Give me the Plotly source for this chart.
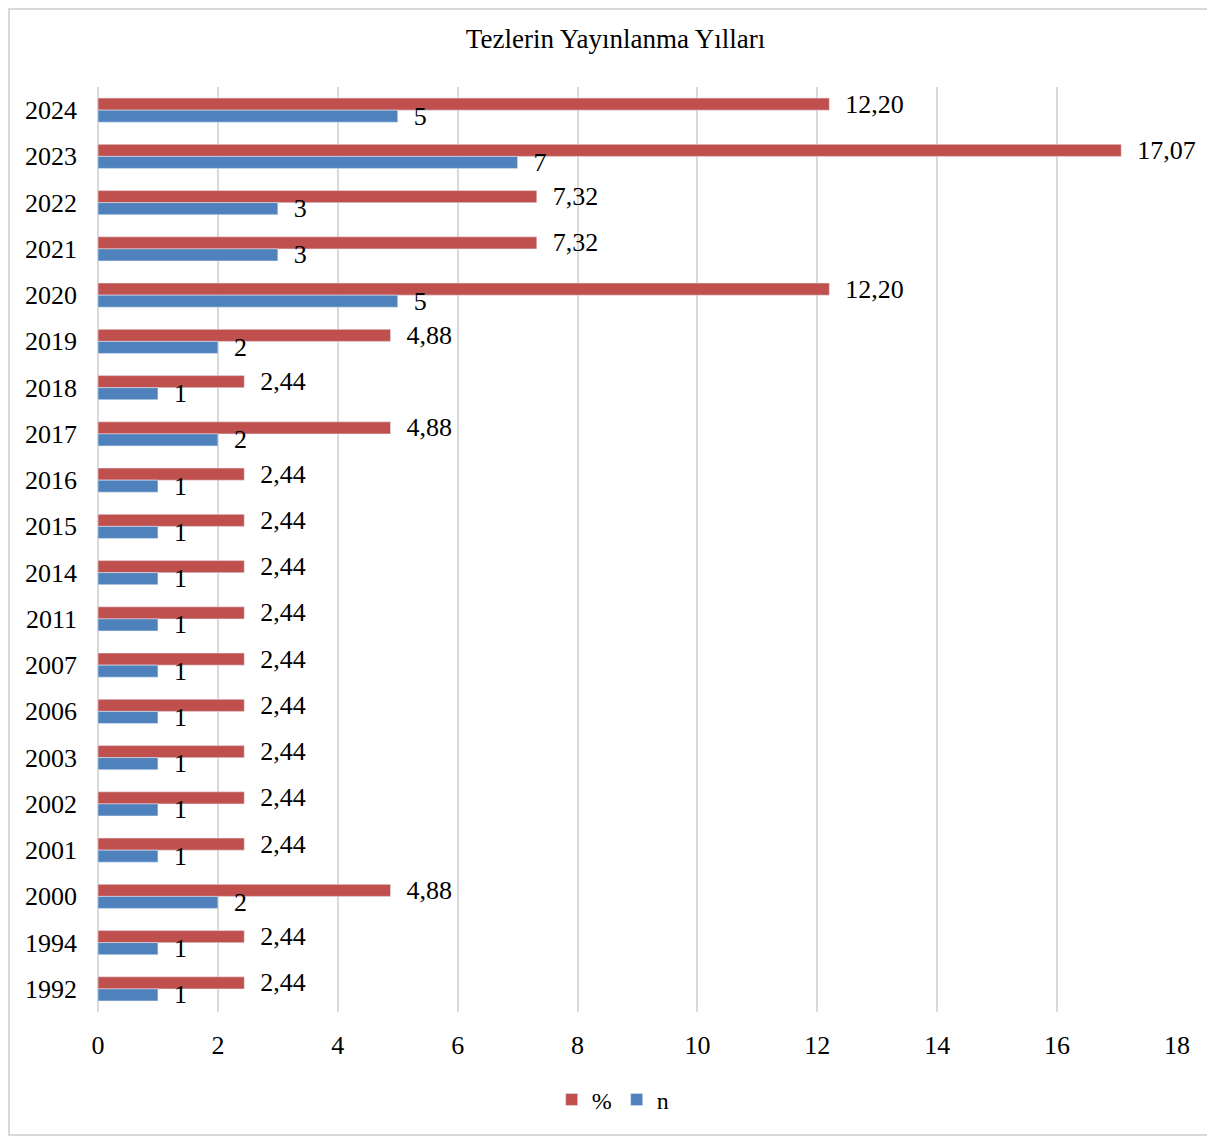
import plotly.graph_objects as go

years = ["1992", "1994", "2000", "2001", "2002", "2003", "2006", "2007", "2011",
         "2014", "2015", "2016", "2017", "2018", "2019", "2020", "2021", "2022",
         "2023", "2024"]
n_vals = [1, 1, 2, 1, 1, 1, 1, 1, 1, 1, 1, 1, 2, 1, 2, 5, 3, 3, 7, 5]
pct_vals = [2.44, 2.44, 4.88, 2.44, 2.44, 2.44, 2.44, 2.44, 2.44, 2.44, 2.44,
            2.44, 4.88, 2.44, 4.88, 12.20, 7.32, 7.32, 17.07, 12.20]
x_ticks = [0, 2, 4, 6, 8, 10, 12, 14, 16, 18]

font = "Liberation Serif, Times New Roman, serif"
pad = "\u00a0\u00a0"

fig = go.Figure()
# % bars sit just above the category centre, n bars just below; n drawn last so its labels stay on top
fig.add_trace(go.Bar(
    y=years, x=pct_vals, orientation="h", name="%",
    marker=dict(color="#C0504D"), width=0.26, offset=0,
    text=[pad + f"{v:.2f}".replace(".", ",") for v in pct_vals], textposition="outside",
    textfont=dict(family=font, size=26, color="black"),
    constraintext="none", cliponaxis=False,
))
fig.add_trace(go.Bar(
    y=years, x=n_vals, orientation="h", name="n",
    marker=dict(color="#4F81BD"), width=0.26, offset=-0.26,
    text=[pad + str(v) for v in n_vals], textposition="outside",
    textfont=dict(family=font, size=26, color="black"),
    constraintext="none", cliponaxis=False,
))

fig.update_layout(
    width=1215, height=1137,
    margin=dict(l=90, r=46, t=79, b=133),
    paper_bgcolor="white", plot_bgcolor="white",
    font=dict(family=font, size=26, color="black"),
    title=dict(text="Tezlerin Yayınlanma Yılları", x=0.5, xanchor="center",
               y=1 - 31 / 1137, yanchor="middle",
               font=dict(family=font, size=27, color="black")),
    barmode="overlay",
    showlegend=True,
    legend=dict(orientation="h", x=0.477, xanchor="center", y=-0.095, yanchor="middle",
                font=dict(family=font, size=24, color="black"),
                itemwidth=30),
    xaxis=dict(range=[0, 18], tickvals=x_ticks, showgrid=True, gridcolor="#d9d9d9",
               gridwidth=2, zeroline=True, zerolinecolor="#d9d9d9", zerolinewidth=2,
               showline=False, ticks="", ticklabelstandoff=15,
               tickfont=dict(family=font, size=26)),
    yaxis=dict(type="category", categoryorder="array", categoryarray=years,
               showgrid=False, showline=False, ticks="", ticklabelstandoff=20,
               tickfont=dict(family=font, size=26)),
    shapes=[dict(type="rect", xref="paper", yref="paper",
                 x0=-0.0825, x1=1.0334, y0=-0.133, y1=1.0843,
                 line=dict(color="#d9d9d9", width=2), fillcolor="rgba(0,0,0,0)")],
)

fig.write_html("out.html")
